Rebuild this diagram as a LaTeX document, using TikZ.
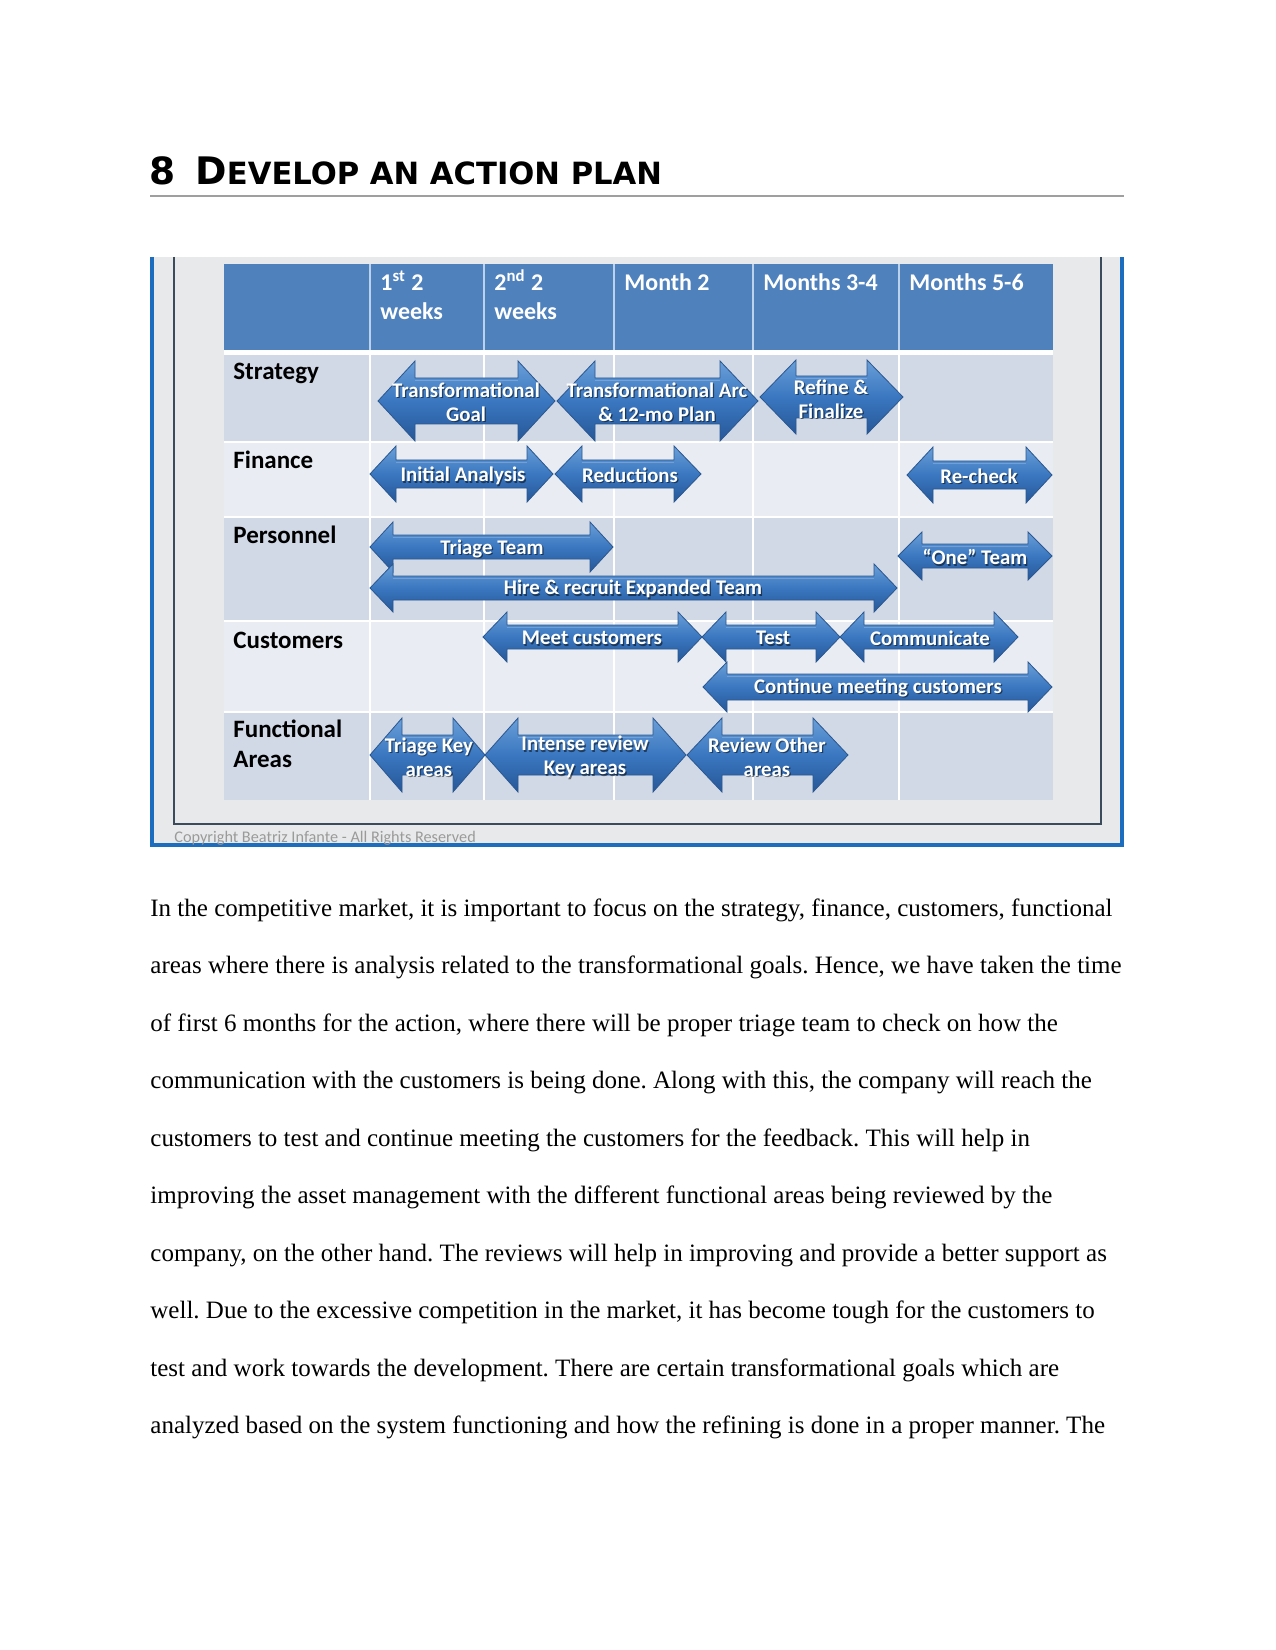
\documentclass[tikz,border=0pt]{standalone}
\usepackage{fontspec}
\setmainfont{Liberation Serif}
\newfontfamily\calfont{Carlito}
\newfontfamily\headfont{DejaVu Sans}
\frenchspacing
\definecolor{hdrblue}{HTML}{4F81BD}
\definecolor{hdrsep}{HTML}{BCD2EC}
\definecolor{rowA}{HTML}{D1D9E7}
\definecolor{rowB}{HTML}{E9EDF3}
\definecolor{imgbg}{HTML}{E8E9EA}
\definecolor{frameDark}{HTML}{3B4B5C}
\definecolor{frameBlue}{HTML}{1D6DBF}
\definecolor{arrTop}{HTML}{6A9FD8}
\definecolor{arrMid}{HTML}{3A77C0}
\definecolor{arrBot}{HTML}{275798}
\definecolor{arrEdge}{HTML}{2B5890}
\definecolor{copygray}{HTML}{9A9A9A}
\tikzset{
  arrowshape/.style={draw=arrEdge, line width=0.4pt, line join=miter, top color=arrTop, bottom color=arrBot, middle color=arrMid},
  albtext/.style={text=white, font=\calfont\bfseries\fontsize{10}{11.5}\selectfont, align=center, inner sep=0pt},
  albshadow/.style={text=black, opacity=0.5, font=\calfont\bfseries\fontsize{10}{11.5}\selectfont, align=center, inner sep=0pt},
  hdrtext/.style={anchor=base west, text=white, font=\calfont\bfseries\fontsize{11.5}{13}\selectfont, inner sep=0pt},
  rowtext/.style={anchor=base west, text=black, font=\calfont\bfseries\fontsize{12}{14}\selectfont, inner sep=0pt},
  bodytext/.style={anchor=base west, inner sep=0pt, font=\fontsize{12}{14}\selectfont},
}
% double arrow: x1, x2, yc, shaft half, head half, head length
\newcommand\dblarr[6]{%
  \path[arrowshape] (#1,#3) -- ({#1+#6},{#3-#5}) -- ({#1+#6},{#3-#4}) -- ({#2-#6},{#3-#4}) -- ({#2-#6},{#3-#5}) -- (#2,#3) -- ({#2-#6},{#3+#5}) -- ({#2-#6},{#3+#4}) -- ({#1+#6},{#3+#4}) -- ({#1+#6},{#3+#5}) -- cycle;
  \draw[white, opacity=0.2, line width=0.8pt] ({#1+#6},{#3-#4+2.5}) -- ({#2-#6},{#3-#4+2.5});
}
\newcommand\albl[4]{%
  \node[albshadow] (#1s) at ({#2+1.2},{#3+1.4}) {#4};
  \node[albtext] (#1) at (#2,#3) {#4};
}
\begin{document}
\begin{tikzpicture}[x=0.48pt, y=-0.48pt]
\useasboundingbox (0,0) rectangle (1275,1650);
\fill[white] (0,0) rectangle (1275,1650);

% heading
\node[anchor=base west, inner sep=0pt, font=\headfont\bfseries\fontsize{18}{20}\selectfont] (hnum) at (149,185) {8};
\node[anchor=base west, inner sep=0pt, font=\headfont\bfseries] (htitle) at (195,185) {\fontsize{18.2}{20}\selectfont D\fontsize{14.7}{16}\selectfont EVELOP AN ACTION PLAN};
\draw[gray!75, line width=0.6pt] (150,196) -- (1124,196);

% image frame
\fill[imgbg] (150,257) rectangle (1124,847);
\draw[frameDark, line width=1.3pt] (174,257) -- (174,824) -- (1101,824) -- (1101,257);
\draw[frameBlue, line width=1.9pt] (152,257) -- (152,845) -- (1122,845) -- (1122,257);
\node[anchor=base west, inner sep=0pt, text=copygray, font=\calfont\fontsize{7.8}{9}\selectfont] (copy) at (174,842) {Copyright Beatriz Infante - All Rights Reserved};

% table
\fill[hdrblue] (224,264) rectangle (1053,350);
\foreach \cx in {370,484,614,753,899} \draw[hdrsep, line width=0.7pt] (\cx,264) -- (\cx,350);
\fill[white] (224,350) rectangle (1053,800);
\fill[rowA] (224,355) rectangle (1053,441);
\fill[rowB] (224,443) rectangle (1053,516);
\fill[rowA] (224,518) rectangle (1053,620);
\fill[rowB] (224,622) rectangle (1053,711);
\fill[rowA] (224,713) rectangle (1053,800);
\foreach \cx in {370,484,614,753,899} \draw[white, line width=0.6pt] (\cx,355) -- (\cx,800);

% header texts
\node[hdrtext] (h1a) at (380,291) {1\textsuperscript{st} 2};
\node[hdrtext] (h1b) at (380,320) {weeks};
\node[hdrtext] (h2a) at (494,291) {2\textsuperscript{nd} 2};
\node[hdrtext] (h2b) at (494,320) {weeks};
\node[hdrtext] (h3) at (624,291) {Month 2};
\node[hdrtext] (h4) at (763,291) {Months 3-4};
\node[hdrtext] (h5) at (909,291) {Months 5-6};

% row labels
\node[rowtext] (rStrategy) at (233,380) {Strategy};
\node[rowtext] (rFinance) at (233,468) {Finance};
\node[rowtext] (rPersonnel) at (233,543) {Personnel};
\node[rowtext] (rCustomers) at (233,648) {Customers};
\node[rowtext] (rFunc1) at (233,737) {Functional};
\node[rowtext] (rFunc2) at (233,767) {Areas};

% arrows: strategy
\dblarr{378}{555}{401}{23}{40}{37}
\dblarr{557}{758}{401}{23}{40}{38}
\dblarr{760}{903}{397}{21}{37}{36}
\albl{aTG}{466}{402}{Transformational\\Goal}
\albl{aTA}{657}{402}{Transformational Arc\\\& 12-mo Plan}
\albl{aRF}{831}{399}{Refine \&\\Finalize}
% finance
\dblarr{370}{553}{474}{14}{28}{26}
\dblarr{555}{701}{474}{14}{28}{27}
\dblarr{907}{1052}{475}{14}{28}{26}
\albl{aIA}{463}{476}{Initial Analysis}
\albl{aRD}{630}{475}{Reductions}
\albl{aRC}{979}{476}{Re-check}
% personnel
\dblarr{370}{613}{547}{12}{25}{23}
\dblarr{370}{897}{588}{12}{24}{23}
\dblarr{898}{1052}{556}{12}{24}{24}
\albl{aTT}{492}{549}{Triage Team}
\albl{aHR}{633}{589}{Hire \& recruit Expanded Team}
\albl{aOT}{975}{557}{“One” Team}
% customers
\dblarr{483}{702}{637}{12}{25}{24}
\dblarr{702}{840}{637}{12}{25}{24}
\dblarr{840}{1018}{637}{12}{25}{24}
\dblarr{703}{1052}{687}{13}{25}{24}
\albl{aMC}{592}{638}{Meet customers}
\albl{aTS}{773}{638}{Test}
\albl{aCM}{930}{638}{Communicate}
\albl{aCO}{878}{688}{Continue meeting customers}
% functional areas
\dblarr{370}{485}{755}{20}{37}{32}
\dblarr{485}{686}{755}{20}{37}{33}
\dblarr{687}{848}{755}{20}{37}{35}
\albl{aTK}{429}{757}{Triage Key\\areas}
\albl{aIR}{585}{757}{Intense review\\Key areas}
\albl{aRO}{767}{757}{Review Other\\areas}

% body text
\node[bodytext] (l1) at (150,916) {In the competitive market, it is important to focus on the strategy, finance, customers, functional};
\node[bodytext] (l2) at (150,973.5) {areas where there is analysis related to the transformational goals. Hence, we have taken the time};
\node[bodytext] (l3) at (150,1031) {of first 6 months for the action, where there will be proper triage team to check on how the};
\node[bodytext] (l4) at (150,1088.5) {communication with the customers is being done. Along with this, the company will reach the};
\node[bodytext] (l5) at (150,1146) {customers to test and continue meeting the customers for the feedback. This will help in};
\node[bodytext] (l6) at (150,1203.5) {improving the asset management with the different functional areas being reviewed by the};
\node[bodytext] (l7) at (150,1261) {company, on the other hand. The reviews will help in improving and provide a better support as};
\node[bodytext] (l8) at (150,1318.5) {well. Due to the excessive competition in the market, it has become tough for the customers to};
\node[bodytext] (l9) at (150,1376) {test and work towards the development. There are certain transformational goals which are};
\node[bodytext] (l10) at (150,1433.5) {analyzed based on the system functioning and how the refining is done in a proper manner. The};
\end{tikzpicture}
\end{document}
